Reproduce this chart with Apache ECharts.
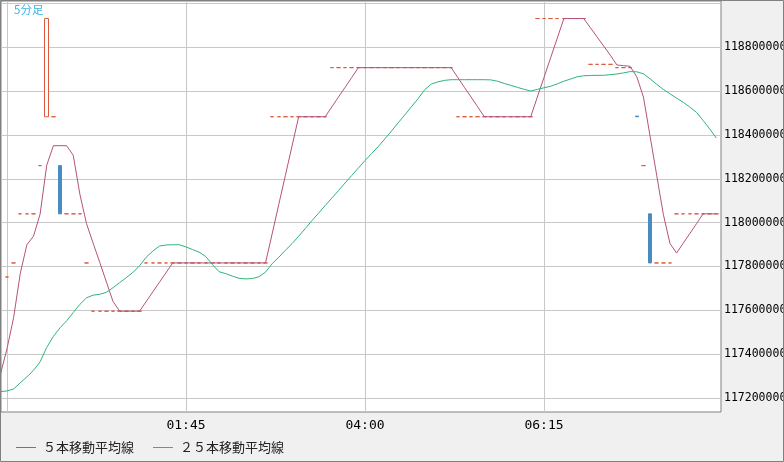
<!DOCTYPE html>
<html>
<head>
<meta charset="utf-8">
<script src="https://cdn.jsdelivr.net/npm/echarts@6/dist/echarts.min.js"></script>
<style>
html,body{margin:0;padding:0;background:#f0f0f0;}
#chart{width:784px;height:462px;}
</style>
</head>
<body>
<div id="chart"></div>
<script>
// 5-minute bars; bar index 0 = 23:30
const chartTitle = '5分足';
const seriesNames = ['５本移動平均線', '２５本移動平均線'];

// x tick positions (bar index) and their labels
const gridBars = [0, 27, 54, 81];
const labelBars = [27, 54, 81];
const timeLabels = ['01:45', '04:00', '06:15'];

// y ticks
const priceTicks = [117200000, 117400000, 117600000, 117800000, 118000000, 118200000, 118400000, 118600000, 118800000, 119000000];
const priceLabelTicks = [117200000, 117400000, 117600000, 117800000, 118000000, 118200000, 118400000, 118600000, 118800000];

// candles, bar index 0..107
const opens = [
  117752000, 117816000, 118040000, 118040000, 118040000, 118260000, 118483000, 118483000, 118260000, 118040000, 118040000, 118040000, 117816000,
  117596000, 117596000, 117596000, 117596000, 117596000, 117596000, 117596000, 117596000,
  117816000, 117816000, 117816000, 117816000, 117816000, 117816000, 117816000, 117816000, 117816000, 117816000,
  117816000, 117816000, 117816000, 117816000, 117816000, 117816000, 117816000, 117816000, 117816000,
  118483000, 118483000, 118483000, 118483000, 118483000, 118483000, 118483000, 118483000, 118483000,
  118707000, 118707000, 118707000, 118707000, 118707000, 118707000, 118707000, 118707000, 118707000, 118707000,
  118707000, 118707000, 118707000, 118707000, 118707000, 118707000, 118707000, 118707000, 118707000,
  118483000, 118483000, 118483000, 118483000, 118483000, 118483000, 118483000, 118483000, 118483000, 118483000, 118483000, 118483000,
  118931000, 118931000, 118931000, 118931000, 118931000, 118931000, 118931000, 118931000,
  118722000, 118722000, 118722000, 118722000,
  118707000, 118707000, 118707000,
  118486000, 118260000, 118040000,
  117816000, 117816000, 117816000,
  118040000, 118040000, 118040000, 118040000, 118040000, 118040000, 118040000
];
const closes = [
  117752000, 117816000, 118040000, 118040000, 118040000, 118260000, 118931000, 118483000, 118040000, 118040000, 118040000, 118040000, 117816000,
  117596000, 117596000, 117596000, 117596000, 117596000, 117596000, 117596000, 117596000,
  117816000, 117816000, 117816000, 117816000, 117816000, 117816000, 117816000, 117816000, 117816000, 117816000,
  117816000, 117816000, 117816000, 117816000, 117816000, 117816000, 117816000, 117816000, 117816000,
  118483000, 118483000, 118483000, 118483000, 118483000, 118483000, 118483000, 118483000, 118483000,
  118707000, 118707000, 118707000, 118707000, 118707000, 118707000, 118707000, 118707000, 118707000, 118707000,
  118707000, 118707000, 118707000, 118707000, 118707000, 118707000, 118707000, 118707000, 118707000,
  118483000, 118483000, 118483000, 118483000, 118483000, 118483000, 118483000, 118483000, 118483000, 118483000, 118483000, 118483000,
  118931000, 118931000, 118931000, 118931000, 118931000, 118931000, 118931000, 118931000,
  118722000, 118722000, 118722000, 118722000,
  118707000, 118707000, 118707000,
  118483000, 118260000, 117816000,
  117816000, 117816000, 117816000,
  118040000, 118040000, 118040000, 118040000, 118040000, 118040000, 118040000
];

// moving averages, bar index -1..107
const ma5 = [
  117307000, 117424000, 117566000, 117767000, 117899000, 117938000, 118039000, 118262000, 118351000, 118351000, 118351000, 118307000, 118129000, 117995000,
  117906000, 117818000, 117729000, 117640000, 117596000, 117596000, 117596000, 117596000, 117640000, 117684000, 117728000, 117772000,
  117816000, 117816000, 117816000, 117816000, 117816000, 117816000, 117816000, 117816000, 117816000, 117816000, 117816000, 117816000, 117816000, 117816000, 117816000,
  117949000, 118083000, 118216000, 118350000,
  118483000, 118483000, 118483000, 118483000, 118483000,
  118528000, 118573000, 118617000, 118662000,
  118707000, 118707000, 118707000, 118707000, 118707000, 118707000, 118707000, 118707000, 118707000, 118707000, 118707000, 118707000, 118707000, 118707000, 118707000,
  118662000, 118617000, 118573000, 118528000,
  118483000, 118483000, 118483000, 118483000, 118483000, 118483000, 118483000, 118483000,
  118573000, 118662000, 118752000, 118841000,
  118931000, 118931000, 118931000, 118931000,
  118889000, 118847000, 118806000, 118764000, 118719000, 118716000, 118713000, 118665000, 118573000, 118395000, 118216000, 118038000, 117905000, 117861000, 117906000, 117950000, 117995000, 118040000, 118040000, 118040000
];
const ma25 = [
  117229000, 117232000, 117241000, 117269000, 117296000, 117326000, 117365000, 117431000, 117481000, 117520000, 117552000, 117590000, 117627000, 117657000,
  117669000, 117673000, 117682000, 117703000, 117726000, 117749000, 117773000, 117803000, 117842000, 117870000, 117893000, 117898000, 117899000, 117899000,
  117889000, 117877000, 117865000, 117845000, 117808000, 117776000, 117767000, 117756000, 117746000, 117743000, 117745000, 117753000, 117774000, 117813000,
  117842000, 117874000, 117904000, 117938000, 117973000, 118009000, 118043000, 118078000, 118112000, 118146000, 118181000, 118215000, 118249000, 118283000,
  118315000, 118347000, 118382000, 118418000, 118455000, 118491000, 118528000, 118565000, 118606000, 118632000, 118642000, 118649000, 118652000, 118652000,
  118652000, 118652000, 118652000, 118652000, 118651000, 118645000, 118635000, 118626000, 118617000, 118608000, 118600000, 118608000, 118615000, 118622000,
  118633000, 118645000, 118655000, 118665000, 118670000, 118671000, 118672000, 118672000, 118675000, 118678000, 118683000, 118689000, 118688000, 118679000,
  118656000, 118631000, 118608000, 118588000, 118568000, 118549000, 118527000, 118503000, 118466000, 118427000, 118386000
];

const candleRows = opens.map((o, i) => [i, o, closes[i], Math.min(o, closes[i]), Math.max(o, closes[i])]);
const ma5Rows = ma5.map((v, i) => [i - 1, v]);
const ma25Rows = ma25.map((v, i) => [i - 1, v]);

const RED = '#dc5a3c', BLUE = '#4a8bc2', MA5C = '#b3537e', MA25C = '#2fb47a';
const chart = echarts.init(document.getElementById('chart'), null, {renderer: 'canvas'});
chart.setOption({
  animation: false,
  backgroundColor: '#f0f0f0',
  title: {
    text: chartTitle, left: 14, top: 4, padding: 0,
    textStyle: {fontSize: 11.5, color: '#3ab4e8', fontWeight: 'normal', fontFamily: 'Noto Sans CJK JP'}
  },
  legend: {
    data: seriesNames, left: 16, top: 441, icon: 'rect', itemWidth: 20, itemHeight: 1, itemGap: 19, padding: 0,
    textStyle: {fontSize: 13, color: '#222', fontFamily: 'Noto Sans CJK JP', padding: [0, 0, 0, 2]}
  },
  grid: {left: 1, top: 1, right: 63, bottom: 50, containLabel: false, outerBoundsMode: 'none',
    show: true, backgroundColor: '#fff', borderColor: '#808080', borderWidth: 1},
  xAxis: {
    type: 'value', min: -0.9, max: 107.7,
    axisLine: {show: false},
    axisTick: {show: false, customValues: gridBars},
    axisLabel: {
      customValues: labelBars, margin: 7, color: '#000', fontSize: 13, fontFamily: 'DejaVu Sans Mono',
      formatter: v => timeLabels[labelBars.indexOf(v)]
    },
    splitLine: {show: true, lineStyle: {color: '#c8c8c8', width: 1}}
  },
  yAxis: {
    type: 'value', position: 'right', min: 117136000, max: 119011000, scale: true,
    axisLine: {show: false},
    axisTick: {show: false, customValues: priceTicks},
    axisLabel: {customValues: priceLabelTicks, margin: 3, color: '#000', fontSize: 11.5, fontFamily: 'DejaVu Sans Mono',
      formatter: v => String(v)},
    splitLine: {show: true, lineStyle: {color: '#c8c8c8', width: 1}}
  },
  graphic: [{
    type: 'rect', silent: true, z: 100,
    shape: {x: 0.5, y: 0.5, width: 783, height: 461},
    style: {fill: null, stroke: '#808080', lineWidth: 1}
  }],
  series: [
    {
      type: 'candlestick', data: candleRows, barWidth: 4,
      itemStyle: {color: '#ffffff', color0: BLUE, borderColor: RED, borderColor0: BLUE, borderColorDoji: RED, borderWidth: 1}
    },
    {name: seriesNames[0], type: 'line', data: ma5Rows, showSymbol: false, symbol: 'none', color: MA5C, lineStyle: {width: 1, color: MA5C}},
    {name: seriesNames[1], type: 'line', data: ma25Rows, showSymbol: false, symbol: 'none', color: MA25C, lineStyle: {width: 1, color: MA25C}}
  ]
});
</script>
</body>
</html>
